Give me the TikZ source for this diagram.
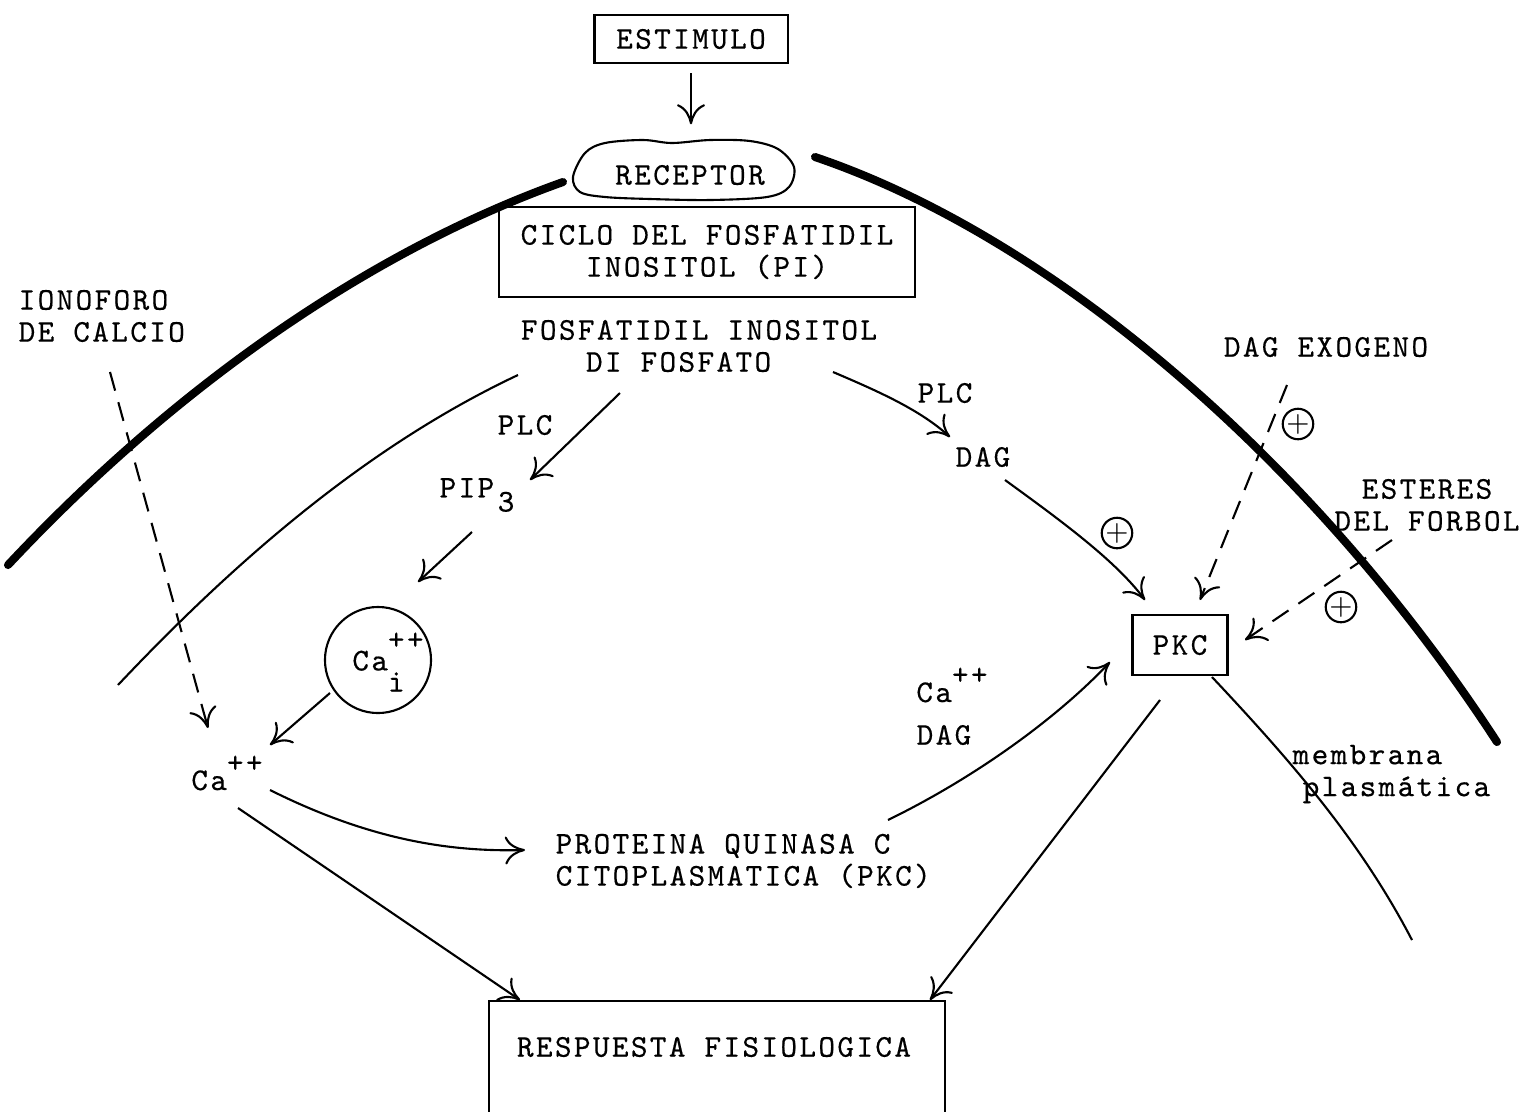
\documentclass[tikz,border=0pt]{standalone}
\usepackage{fontspec}
\newfontfamily\tyfont{lmmono10-regular.otf}[LetterSpace=7.5,FakeBold=0.4]
\usetikzlibrary{arrows.meta,calc}
\begin{document}
\begin{tikzpicture}[x=0.01cm,y=-0.01cm,
  every node/.style={font=\tyfont\fontsize{9}{9.1}\selectfont, inner sep=0pt},
  box/.style={draw, line width=0.6pt},
  thinline/.style={line width=0.6pt},
  arr/.style={line width=0.6pt, -{Computer Modern Rightarrow[length=2mm,width=2.8mm]}},
  dasharr/.style={arr, dash pattern=on 5.5pt off 3.4pt},
  memb/.style={line width=2.3pt, line cap=round},
  oplus/.style={circle, draw, line width=0.6pt, minimum size=0.27cm, font=\fontsize{8}{8}\selectfont}
]
\useasboundingbox (0,0) rectangle (1529,1111);

% membranes
\draw[memb] (8,565) .. controls (200,360) and (400,240) .. (563,182);
\draw[memb] (815,157) .. controls (1060,240) and (1320,470) .. (1497,742);
\draw[thinline] (518,375) .. controls (380,440) and (250,545) .. (118,685);
\draw[thinline] (1212,677) .. controls (1290,760) and (1360,840) .. (1412,940);

% nodes
\node[box, minimum width=1.93cm, minimum height=0.48cm] (stim) at (691,39) {ESTIMULO};
\node[minimum width=2.2cm, minimum height=0.6cm] (rec) at (690,175) {RECEPTOR};
\draw[thinline] plot[smooth cycle, tension=0.55] coordinates {(573,177) (585,153) (605,143) (643,140) (672,143) (710,140) (750,141) (778,149) (794,167) (789,187) (767,197) (710,200) (650,199) (605,197) (580,192)};
\node[box, minimum width=4.15cm, minimum height=0.9cm, align=center] (pi) at (707,252) {CICLO DEL FOSFATIDIL\\INOSITOL (PI)};
\node[align=left] (fos) at (699,346) {FOSFATIDIL INOSITOL\\\hspace*{0.65cm}DI FOSFATO};
\node[align=left, anchor=west] (iono) at (18,316) {IONOFORO\\DE CALCIO};
\node (plc1) at (525,425) {PLC};
\node (pip) at (477,495) {PIP\kern1pt\raisebox{-4pt}{3}};
\node[circle, draw, line width=0.6pt, minimum size=1.06cm] (cai) at (378,660) {};
\node (cait) at (388,662) {Ca\rlap{\raisebox{-6pt}{i}}\raisebox{6pt}{++}};
\node (ca) at (227,773) {Ca\raisebox{5pt}{++}};
\node[align=left, anchor=west] (prot) at (555,861) {PROTEINA QUINASA C\\CITOPLASMATICA (PKC)};
\node (ca2) at (952,685) {Ca\raisebox{5pt}{++}};
\node (dag2) at (944,735) {DAG};
\node (plc2) at (945,393) {PLC};
\node (dag) at (983,457) {DAG};
\node[box, minimum width=0.95cm, minimum height=0.6cm] (pkc) at (1180,645) {PKC\hspace{0.15cm}};
\node (dagexo) at (1326,347) {DAG EXOGENO};
\node[align=center] (est) at (1427,505) {ESTERES\\DEL FORBOL};
\node[align=left, anchor=west] (membt) at (1292,774) {membrana\\\hspace*{0.1cm}plasmática};
\node[box, anchor=north, minimum width=4.55cm, minimum height=1.4cm] (resp) at (717,1000) {};
\node (respt) at (714,1047) {RESPUESTA FISIOLOGICA};

\node[oplus] (p1) at (1117,533) {+};
\node[oplus] (p2) at (1298,424) {+};
\node[oplus] (p3) at (1341,607) {+};

% connector end points
\coordinate (fosA) at (620,393);  \coordinate (pipT) at (530,480);
\coordinate (pipB) at (472,532);  \coordinate (caiT) at (418,582);
\coordinate (caiB) at (330,693);  \coordinate (caT) at (270,745);
\coordinate (ionoB) at (110,372); \coordinate (caL) at (208,728);
\coordinate (caB) at (238,808);   \coordinate (respL) at (520,1000);
\coordinate (caR) at (270,790);   \coordinate (protL) at (525,850);
\coordinate (protR) at (888,820); \coordinate (pkcL) at (1110,662);
\coordinate (fosR) at (833,372);  \coordinate (dagT) at (950,437);
\coordinate (dagB) at (1005,480); \coordinate (pkcT) at (1145,600);
\coordinate (exoB) at (1287,385); \coordinate (pkcT2) at (1200,600);
\coordinate (estB) at (1392,540); \coordinate (pkcR) at (1245,640);
\coordinate (pkcB) at (1160,700); \coordinate (respR) at (930,1000);

% connectors
\draw[arr, shorten <=0.09cm, shorten >=0.2cm] (stim.south) -- (stim.south |- rec.north);
\draw[arr] (fosA) -- (pipT);
\draw[arr] (pipB) -- (caiT);
\draw[arr] (caiB) -- (caT);
\draw[dasharr] (ionoB) -- (caL);
\draw[arr] (caB) -- (respL);
\draw[arr] (caR) .. controls (370,840) and (450,852) .. (protL);
\draw[arr] (protR) .. controls (980,775) and (1060,715) .. (pkcL);
\draw[arr] (fosR) .. controls (880,392) and (920,410) .. (dagT);
\draw[arr] (dagB) .. controls (1060,520) and (1115,560) .. (pkcT);
\draw[dasharr] (exoB) -- (pkcT2);
\draw[dasharr] (estB) -- (pkcR);
\draw[arr] (pkcB) -- (respR);
\end{tikzpicture}
\end{document}
